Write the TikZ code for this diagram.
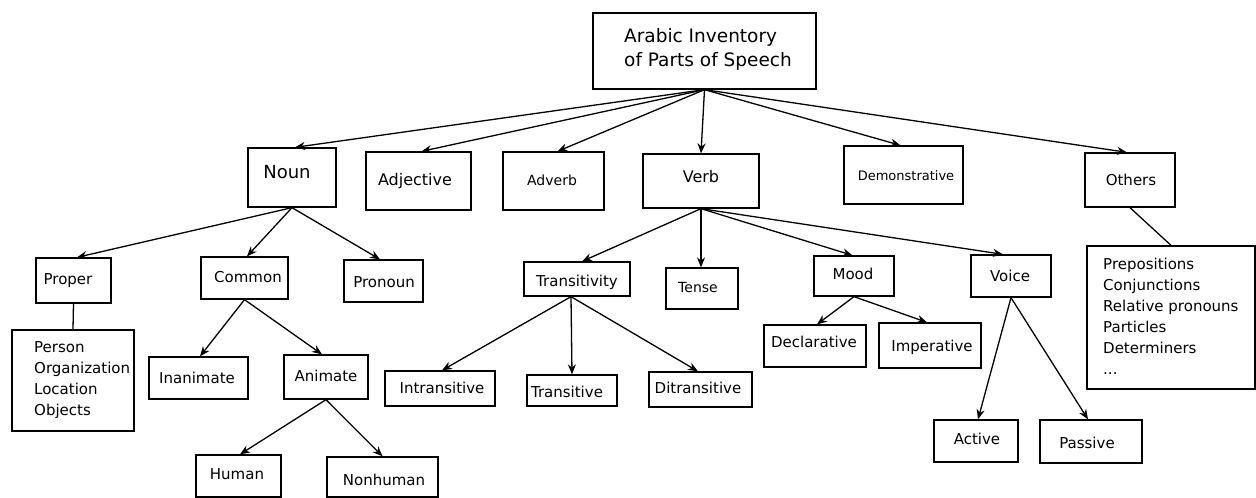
\documentclass[tikz,border=0pt]{standalone}
\usepackage{fontspec}
\setmainfont{DejaVu Sans}
\usetikzlibrary{arrows.meta,calc}

% box with its label: name, centre x, centre y, width, height, label x, label y, font size, text
\newcommand\pbox[9]{%
  \node[box, minimum width=#4pt, minimum height=#5pt] (#1) at (#2,#3) {};
  \node[lbl, font=\fontsize{#8pt}{#8pt}\selectfont] (#1-t) at (#6,{#7+0.37*#8}) {#9};
}

\begin{document}
\begin{tikzpicture}[x=1pt, y=-1pt,
  box/.style={draw, line width=1.3pt, rectangle, inner sep=0pt},
  lbl/.style={inner sep=0pt, anchor=base},
  listtext/.style={inner sep=0pt, anchor=north west, align=left},
  link/.style={line width=1.3pt, -{Stealth[length=10pt, width=8pt]}},
  tie/.style={line width=1.3pt}]

\useasboundingbox (0,0) rectangle (1256,498);

% root
\node[box, minimum width=223pt, minimum height=76pt] (root) at (704.5,51) {};
\node[listtext, font=\fontsize{18.5pt}{24pt}\selectfont] (root-t) at (624,28.5)
  {Arabic Inventory\\of Parts of Speech};

% first level
\pbox{noun}{292}{177.5}{88}{59}{287}{172}{18}{Noun}
\pbox{adjective}{418.5}{181}{105}{58}{415}{180}{16}{Adjective}
\pbox{adverb}{553.5}{181}{101}{58}{552}{180}{14}{Adverb}
\pbox{verb}{701}{181}{116}{54}{701}{177}{16}{Verb}
\pbox{demonstrative}{903.5}{175}{119}{58}{906}{176}{13}{Demonstrative}
\pbox{others}{1130}{180}{90}{54}{1131}{180}{15}{Others}

% noun branch
\pbox{proper}{73.5}{280.5}{75}{45}{68}{279}{15}{Proper}
\pbox{common}{244.5}{278}{87}{42}{248}{277}{15}{Common}
\pbox{pronoun}{383.5}{281}{79}{42}{384}{282}{15}{Pronoun}
\pbox{inanimate}{198.5}{378}{99}{42}{197}{378}{15}{Inanimate}
\pbox{animate}{326}{377}{84}{44}{326}{376}{15}{Animate}
\pbox{human}{238.5}{476}{85}{42}{237}{474}{15}{Human}
\pbox{nonhuman}{382.5}{477}{111}{40}{384}{480}{15}{Nonhuman}

\node[box, minimum width=122pt, minimum height=101pt] (properlist) at (73,380.5) {};
\node[listtext, font=\fontsize{15pt}{21pt}\selectfont] (properlist-t) at (34,341.5)
  {Person\\Organization\\Location\\Objects};

% verb branch
\pbox{transitivity}{577}{279}{106}{34}{577}{281}{15}{Transitivity}
\pbox{tense}{702}{288.5}{72}{41}{698}{287}{14}{Tense}
\pbox{mood}{854}{276}{80}{40}{853}{274}{15}{Mood}
\pbox{voice}{1011}{276}{80}{42}{1010}{276}{15}{Voice}
\pbox{intransitive}{440}{388.5}{110}{35}{442}{388}{15}{Intransitive}
\pbox{transitive}{572}{390.5}{90}{31}{567}{392}{15}{Transitive}
\pbox{ditransitive}{700.5}{389.5}{103}{35}{698}{388}{15}{Ditransitive}
\pbox{declarative}{815}{346}{102}{42}{814}{342}{15}{Declarative}
\pbox{imperative}{930}{345.5}{102}{45}{932}{346}{15}{Imperative}
\pbox{active}{976}{441}{84}{42}{977}{439}{15}{Active}
\pbox{passive}{1091}{441.5}{102}{43}{1087}{443}{15}{Passive}

% other word classes
\node[box, minimum width=168pt, minimum height=143pt] (otherlist) at (1171,317.5) {};
\node[listtext, font=\fontsize{15pt}{21pt}\selectfont] (otherlist-t) at (1103,258)
  {Prepositions\\Conjunctions\\Relative pronouns\\Particles\\Determiners\\...};

% connectors from the root
\draw[link] (root.south) -- ([xshift=3pt]noun.north);
\draw[link] (root.south) -- ([xshift=3pt]adjective.north);
\draw[link] (root.south) -- ([xshift=4pt]adverb.north);
\draw[link] (root.south) -- (verb.north);
\draw[link] (root.south) -- ([xshift=-3pt]demonstrative.north);
\draw[link] (root.south) -- ([xshift=-3pt]others.north);

% noun connectors
\draw[link] (noun.south) -- ([xshift=3.5pt]proper.north);
\draw[link] (noun.south) -- ([xshift=2.5pt]common.north);
\draw[link] (noun.south) -- ([xshift=-3.5pt]pronoun.north);
\draw[link] (common.south) -- ([xshift=1.5pt]inanimate.north);
\draw[link] (common.south) -- ([xshift=-4pt]animate.north);
\draw[link] (animate.south) -- ([xshift=1.5pt]human.north);
\draw[link] (animate.south) -- (nonhuman.north);
\draw[tie] (proper.south) -- (properlist.north);

% verb connectors
\draw[link] (verb.south) -- ([xshift=5pt]transitivity.north);
\draw[link] (verb.south) -- ([xshift=-1pt]tense.north);
\draw[link] (verb.south) -- ([xshift=-1.5pt]mood.north);
\draw[link] (verb.south) -- ([xshift=-8pt]voice.north);
\draw[link] ([xshift=-6pt]transitivity.south) -- ([xshift=2pt]intransitive.north);
\draw[link] ([xshift=-6pt]transitivity.south) -- (transitive.north);
\draw[link] ([xshift=-6pt]transitivity.south) -- ([xshift=-2.5pt]ditransitive.north);
\draw[link] (mood.south) -- ([xshift=2pt]declarative.north);
\draw[link] (mood.south) -- ([xshift=-3pt]imperative.north);
\draw[link] (voice.south) -- ([xshift=2pt]active.north);
\draw[link] (voice.south) -- ([xshift=-3pt]passive.north);

% others connector
\draw[tie] (others.south) -- (otherlist.north);

\end{tikzpicture}
\end{document}
